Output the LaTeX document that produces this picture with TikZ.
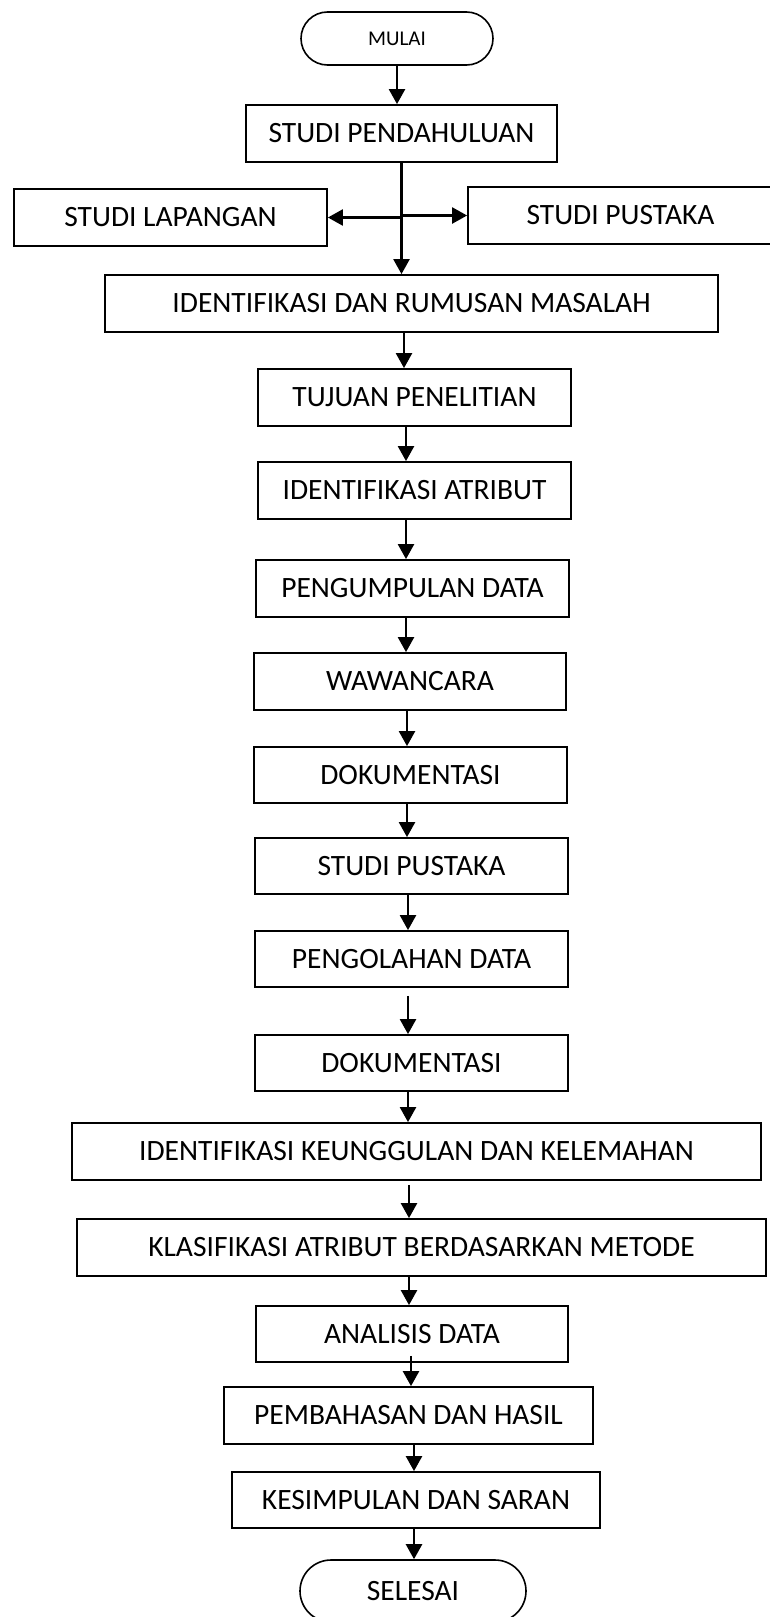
\documentclass[tikz,border=0pt]{standalone}
\usepackage{fontspec}
\setmainfont{Carlito}
\usetikzlibrary{arrows.meta,shapes.misc}
\begin{document}
\begin{tikzpicture}[x=1pt,y=-1pt,
  box/.style={draw=black, line width=1.8pt, rectangle, inner sep=0pt, minimum height=57pt, font=\fontsize{29.5pt}{33pt}\selectfont},
  term/.style={draw=black, line width=1.6pt, rounded rectangle, inner sep=0pt},
  arr/.style={line width=2.4pt, -{Triangle[width=16pt,length=15pt]}}]
\useasboundingbox (0,0) rectangle (770,1617);
\clip (0,0) rectangle (770,1617);

% nodes
\node[term, minimum width=192pt, minimum height=53pt, font=\fontsize{21pt}{24pt}\selectfont] (mulai) at (397,38.5) {MULAI};
\node[box, minimum width=311pt] (sp) at (401.5,133.5) {STUDI PENDAHULUAN};
\node[box, minimum width=313pt] (sl) at (170.5,217.5) {STUDI LAPANGAN};
\node[box, minimum width=305pt] (spk) at (620.5,215.5) {STUDI PUSTAKA};
\node[box, minimum width=613pt] (idr) at (411.5,303.5) {IDENTIFIKASI DAN RUMUSAN MASALAH};
\node[box, minimum width=313pt] (tp) at (414.5,397.5) {TUJUAN PENELITIAN};
\node[box, minimum width=313pt] (ia) at (414.5,490.5) {IDENTIFIKASI ATRIBUT};
\node[box, minimum width=313pt] (pd) at (412.5,588.5) {PENGUMPULAN DATA};
\node[box, minimum width=312pt] (ww) at (410,681.5) {WAWANCARA};
\node[box, minimum width=313pt, minimum height=56pt] (dk1) at (410.5,775) {DOKUMENTASI};
\node[box, minimum width=313pt, minimum height=56pt] (spk2) at (411.5,866) {STUDI PUSTAKA};
\node[box, minimum width=313pt, minimum height=56pt] (pgd) at (411.5,959) {PENGOLAHAN DATA};
\node[box, minimum width=313pt, minimum height=56pt] (dk2) at (411.5,1063) {DOKUMENTASI};
\node[box, minimum width=689pt] (ik) at (416.5,1151.5) {IDENTIFIKASI KEUNGGULAN DAN KELEMAHAN};
\node[box, minimum width=689pt] (kl) at (421.5,1247.5) {KLASIFIKASI ATRIBUT BERDASARKAN METODE};
\node[box, minimum width=312pt, minimum height=56pt] (ad) at (412,1334) {ANALISIS DATA};
\node[box, minimum width=369pt] (ph) at (408.5,1415.5) {PEMBAHASAN DAN HASIL};
\node[box, minimum width=368pt, minimum height=56pt] (ks) at (416,1500) {KESIMPULAN DAN SARAN};
\node[term, minimum width=226pt, minimum height=62pt, font=\fontsize{29.5pt}{33pt}\selectfont] (sel) at (413,1591) {\raisebox{-4pt}{SELESAI}};

% connectors
\draw[arr] (mulai.south) -- (mulai.south |- sp.north);
\draw[arr] (sp.south) -- (sp.south |- idr.north);
\draw[arr] (sp.south |- sl.east) -- (sl.east);
\draw[arr] (sp.south |- spk.west) -- (spk.west);

\coordinate (a1) at ([xshift=-7.5pt]idr.south);
\draw[arr] (a1) -- (a1 |- tp.north);
\coordinate (a2) at ([xshift=-8.5pt]tp.south);
\draw[arr] (a2) -- (a2 |- ia.north);
\coordinate (a3) at ([xshift=-8.5pt]ia.south);
\draw[arr] (a3) -- (a3 |- pd.north);
\coordinate (a4) at ([xshift=-6.5pt]pd.south);
\draw[arr] (a4) -- (a4 |- ww.north);
\coordinate (a5) at ([xshift=-3pt]ww.south);
\draw[arr] (a5) -- (a5 |- dk1.north);
\coordinate (a6) at ([xshift=-3.5pt]dk1.south);
\draw[arr] (a6) -- (a6 |- spk2.north);
\coordinate (a7) at ([xshift=-3.5pt]spk2.south);
\draw[arr] (a7) -- (a7 |- pgd.north);
\coordinate (a8) at ([xshift=-3.5pt,yshift=-8pt]pgd.south);
\draw[arr] (a8) -- (a8 |- dk2.north);
\coordinate (a9) at ([xshift=-3.5pt]dk2.south);
\draw[arr] (a9) -- (a9 |- ik.north);
\coordinate (a10) at ([xshift=-7.5pt,yshift=-4pt]ik.south);
\draw[arr] (a10) -- (a10 |- kl.north);
\coordinate (a11) at ([xshift=-12.5pt]kl.south);
\draw[arr] (a11) -- (a11 |- ad.north);
\coordinate (a12) at ([xshift=-1pt,yshift=7pt]ad.south);
\draw[arr] (a12) -- (a12 |- ph.north);
\coordinate (a13) at ([xshift=5.5pt]ph.south);
\draw[arr] (a13) -- (a13 |- ks.north);
\coordinate (a14) at ([xshift=-2pt]ks.south);
\draw[arr] (a14) -- (a14 |- sel.north);
\end{tikzpicture}
\end{document}
